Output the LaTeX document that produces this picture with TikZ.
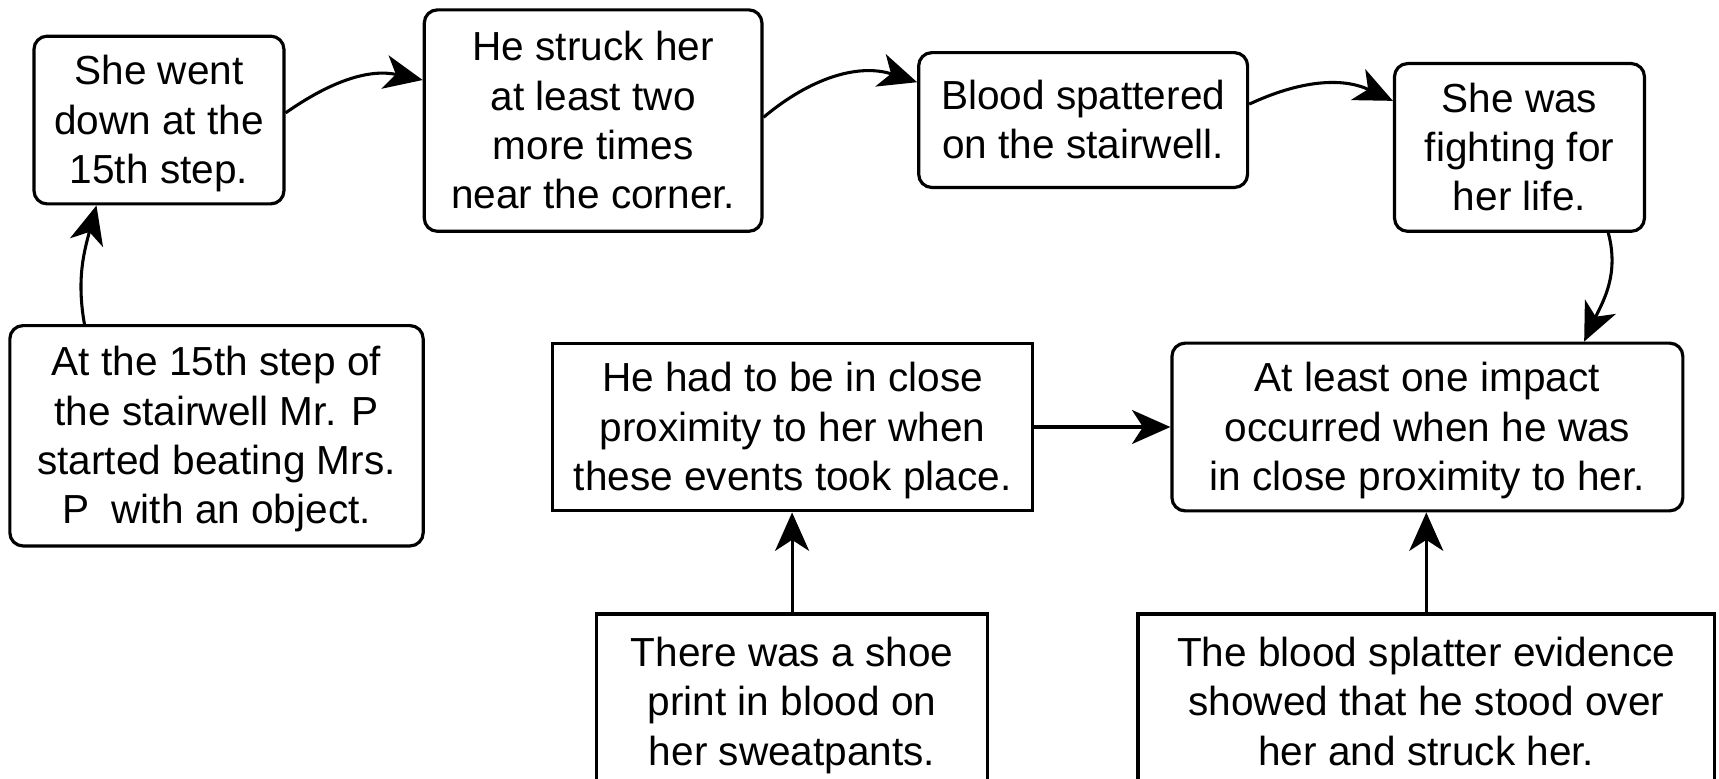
\documentclass[tikz,border=0pt]{standalone}
\usepackage{fontspec}
\setmainfont{Liberation Sans}
\usetikzlibrary{arrows.meta}
% fixed ascent/descent so every box centres its lines by font metrics
\newcommand\lnstrut{\rule[-7.8pt]{0pt}{41.3pt}}
\begin{document}
\begin{tikzpicture}[x=1pt,y=1pt,
  box/.style={draw, line width=2.9pt, align=center, inner sep=0pt,
    font=\fontsize{37}{45}\selectfont},
  rbox/.style={box, rounded corners=12pt},
  link/.style={line width=2.8pt, -{Stealth[length=35pt,width=31pt,inset=10pt]}}]
\clip (0,0) rectangle (1568,710);
\fill[white] (0,0) rectangle (1568,710);

% chain of events along the top
\node[rbox, minimum width=228, minimum height=153] (A) at (145,600.5)
  {\lnstrut She went\\down at the\\15th step.\lnstrut};
\node[rbox, minimum width=308, minimum height=202] (B) at (541,600)
  {\lnstrut He struck her\\at least two\\more times\\near the corner.\lnstrut};
\node[rbox, minimum width=300, minimum height=123] (C) at (988,600.5)
  {\lnstrut Blood spattered\\on the stairwell.\lnstrut};
\node[rbox, minimum width=228, minimum height=153] (D) at (1386,575.5)
  {\lnstrut She was\\fighting for\\her life.\lnstrut};

% starting point
\node[rbox, minimum width=377, minimum height=201] (E) at (197.5,312.5)
  {\lnstrut At the 15th step of\\the stairwell Mr. P\\started beating Mrs.\\P\ \ with an object.\lnstrut};

% conclusions and evidence
\node[box, minimum width=438, minimum height=153] (F) at (723,320.5)
  {\lnstrut He had to be in close\\proximity to her when\\these events took place.\lnstrut};
\node[rbox, minimum width=466, minimum height=153] (G) at (1302,320.5)
  {\lnstrut At least one impact\\occurred when he was\\in close proximity to her.\lnstrut};
\node[box, minimum width=357, minimum height=160] (H) at (722.5,70)
  {\lnstrut There was a shoe\\print in blood on\\her sweatpants.\lnstrut};
\node[box, minimum width=526, minimum height=160] (I) at (1301,70)
  {\lnstrut The blood splatter evidence\\showed that he stood over\\her and struck her.\lnstrut};

% curved links of the sequence
\draw[link] ([xshift=-120.5pt]E.north) to[out=100,in=-105] ([xshift=-57pt]A.south);
\draw[link] ([yshift=6.5pt]A.east) to[out=35,in=168] ([yshift=37pt]B.west);
\draw[link] ([yshift=3pt]B.east) to[out=40,in=162] ([yshift=34.5pt]C.west);
\draw[link] ([yshift=14.5pt]C.east) to[out=25,in=155] ([yshift=42.5pt]D.west);
\draw[link] ([xshift=81pt]D.south) to[out=-75,in=65] ([xshift=143pt]G.north);

% straight links
\draw[link] (F.east) -- (G.west);
\draw[link] (H.north) -- (H.north |- F.south);
\draw[link] (I.north) -- (I.north |- G.south);
\end{tikzpicture}
\end{document}
